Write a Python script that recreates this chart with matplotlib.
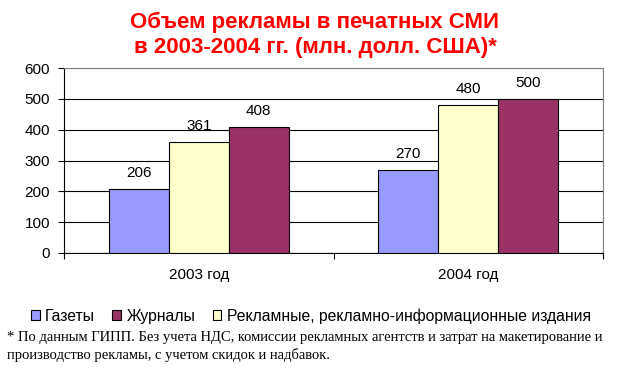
import numpy as np
import matplotlib
matplotlib.use("Agg")
import matplotlib.pyplot as plt
from matplotlib.patches import Patch

years = ["2003 год", "2004 год"]
gazety = [206, 270]
reklamnye = [361, 480]
zhurnaly = [408, 500]
yticks = [0, 100, 200, 300, 400, 500, 600]

plt.rcParams['font.family'] = ['Liberation Sans', 'DejaVu Sans']

W, H = 629, 382
fig = plt.figure(figsize=(W / 100, H / 100), dpi=100)
fig.patch.set_facecolor('white')

# plot area in pixels: x 64..603, y 68..253
ax = fig.add_axes([64 / W, 1 - 253 / H, (603 - 64) / W, (253 - 68) / H])

x = np.arange(len(years))
bw = 60 / 269.5
series = [
    (gazety, '#9999FF'),
    (reklamnye, '#FFFFCC'),
    (zhurnaly, '#993366'),
]
for i, (vals, col) in enumerate(series):
    pos = x + (i - 1) * bw
    bars = ax.bar(pos, vals, bw, color=col, edgecolor='black', linewidth=0.8, zorder=3)
    for b, v in zip(bars, vals):
        ax.text(b.get_x() + b.get_width() / 2, v + 52, str(v),
                ha='center', va='center', fontsize=11, zorder=4)

ax.set_xlim(-0.5, 1.5)
ax.set_ylim(0, 600)
ax.set_yticks(yticks)
ax.set_yticklabels([str(t) for t in yticks], fontsize=11)
ax.yaxis.grid(True, color='black', linewidth=0.8, zorder=0)
ax.set_xticks([-0.5, 0.5, 1.5], minor=False)
ax.set_xticklabels([])
ax.set_xticks([0, 1], minor=True)
ax.set_xticklabels(years, minor=True, fontsize=11)
ax.tick_params(axis='x', which='minor', length=0, pad=11)
ax.tick_params(axis='x', which='major', length=4, direction='out')
ax.tick_params(axis='y', length=4, direction='out', pad=6)

for side in ['top', 'right']:
    ax.spines[side].set_color('#808080')
    ax.spines[side].set_linewidth(0.8)
ax.spines['left'].set_linewidth(0.8)
ax.spines['bottom'].set_linewidth(0.8)

fig.text(315 / W, 1 - 22 / H, "Объем рекламы в печатных СМИ",
         ha='center', va='center', color='red', fontsize=16, fontweight='bold')
fig.text(315 / W, 1 - 48 / H, "в 2003-2004 гг. (млн. долл. США)*",
         ha='center', va='center', color='red', fontsize=16, fontweight='bold')

handles = [
    Patch(facecolor='#9999FF', edgecolor='black', linewidth=0.8, label='Газеты'),
    Patch(facecolor='#993366', edgecolor='black', linewidth=0.8, label='Журналы'),
    Patch(facecolor='#FFFFCC', edgecolor='black', linewidth=0.8,
          label='Рекламные, рекламно-информационные издания'),
]
fig.legend(handles=handles, loc='center', bbox_to_anchor=(311 / W, 1 - 316 / H),
           ncol=3, frameon=False, fontsize=11.3, handlelength=0.55, handleheight=0.55,
           handletextpad=0.35, columnspacing=1.1)

fig.text(7 / W, 1 - 338 / H,
         "* По данным ГИПП. Без учета НДС, комиссии рекламных агентств и затрат на макетирование и",
         ha='left', va='center', fontsize=10.5, family=['Liberation Serif', 'DejaVu Serif'])
fig.text(7 / W, 1 - 355 / H,
         "производство рекламы, с учетом скидок и надбавок.",
         ha='left', va='center', fontsize=10.5, family=['Liberation Serif', 'DejaVu Serif'])

fig.savefig("out.png", dpi=100)
